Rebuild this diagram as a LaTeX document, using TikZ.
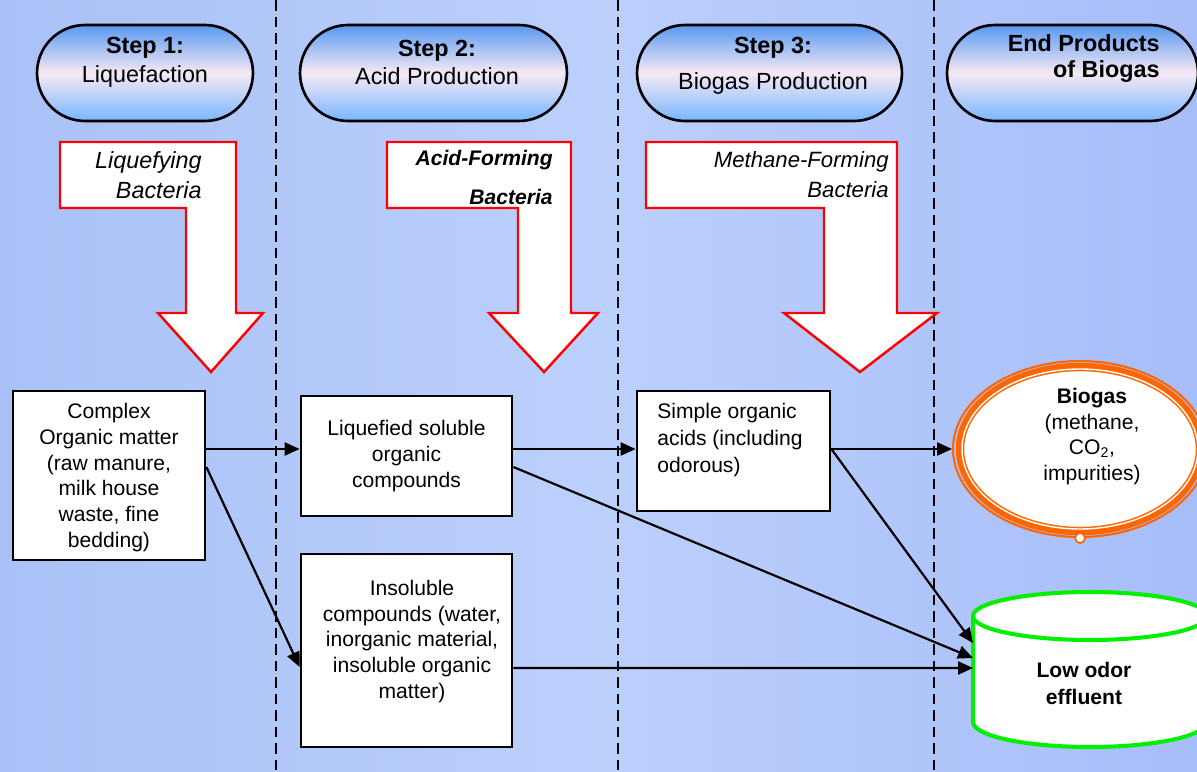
\documentclass[tikz,border=0pt]{standalone}
\usepackage{fontspec}
\setmainfont{Liberation Sans}
\usetikzlibrary{arrows.meta,shapes.geometric,shapes.misc}
\definecolor{bgL}{HTML}{A9C1F7}
\definecolor{bgM}{HTML}{BCD0FC}
\definecolor{bgR}{HTML}{A6BDF9}
\definecolor{pillT}{HTML}{5898F0}
\definecolor{pillM}{HTML}{F6E9F4}
\definecolor{pillB}{HTML}{78B6FF}
\definecolor{bioOr}{HTML}{FF6600}
\definecolor{effGr}{HTML}{00F000}
\begin{document}
\begin{tikzpicture}[x=0.02cm,y=-0.02cm,
  pill/.style={rounded rectangle, draw=black, line width=1.5pt, top color=pillT, bottom color=pillB, middle color=pillM, minimum height=1.92cm, inner sep=0},
  pilltext/.style={align=center, inner sep=0, font=\fontsize{13.3}{16.4}\selectfont},
  barrow/.style={draw=red, fill=white, line width=1.4pt, line join=miter},
  arrtext/.style={align=right, anchor=east, inner sep=0},
  box/.style={draw=black, fill=white, line width=1.6pt, inner sep=0},
  boxtext/.style={align=center, inner sep=0, font=\fontsize{12}{14.6}\selectfont},
  divider/.style={draw=black, line width=1.5pt, dash pattern=on 6pt off 3.4pt},
  conn/.style={draw=black, line width=1.25pt, -{Triangle[length=8.5pt,width=7.4pt]}}
]
\useasboundingbox (0,0) rectangle (1197,771);
\begin{scope}
\clip (0,0) rectangle (1197,771);
\shade[left color=bgL, right color=bgR, middle color=bgM] (0,0) rectangle (1197,771);

% dividers
\draw[divider] (276,0) -- (276,771);
\draw[divider] (618,0) -- (618,771);
\draw[divider] (934,0) -- (934,771);

% header pills
\node[pill, minimum width=4.32cm] (p1) at (145,73) {};
\node[pill, minimum width=5.34cm] (p2) at (433.5,73) {};
\node[pill, minimum width=5.30cm] (p3) at (769.5,73) {};
\node[pill, minimum width=5.02cm] (p4) at (1072.5,73) {};
\node[pilltext] (t1) at (145,62.5) {\textbf{Step 1:}\\Liquefaction};
\node[pilltext] (t2) at (437,62.5) {\textbf{Step 2:}\\Acid Production};
\node[pilltext, font=\fontsize{13.3}{20.4}\selectfont] (t3) at (773,66) {\textbf{Step 3:}\\Biogas Production};
\node[pilltext, align=right, anchor=east, font=\fontsize{13.3}{15.3}\selectfont\bfseries] (t4) at (1160,58.5) {End Products\\of Biogas};

% bacteria block arrows
\draw[barrow] (60,142) -- (236,142) -- (236,313) -- (263,313) -- (211,372) -- (158,313) -- (186,313) -- (186,208) -- (60,208) -- cycle;
\draw[barrow] (387,142) -- (571,142) -- (571,313) -- (598,313) -- (544,372) -- (489,313) -- (518,313) -- (518,208) -- (387,208) -- cycle;
\draw[barrow] (646,142) -- (897,142) -- (897,313) -- (937,313) -- (860,372) -- (784,313) -- (824,313) -- (824,208) -- (646,208) -- cycle;
\node[arrtext, font=\fontsize{13.3}{17}\selectfont\itshape] (a1) at (202,175) {Liquefying\\Bacteria};
\node[arrtext, font=\fontsize{12}{22}\selectfont\bfseries\itshape] (a2) at (553,177.5) {Acid-Forming\\Bacteria};
\node[arrtext, font=\fontsize{12.6}{17}\selectfont\itshape] (a3) at (889,175) {Methane-Forming\\Bacteria};

% process boxes
\node[box, minimum width=3.84cm, minimum height=3.38cm] (cx) at (109,475.5) {};
\node[boxtext] (cxt) at (109,477.5) {Complex\\Organic matter\\(raw manure,\\milk house\\waste, fine\\bedding)};
\node[box, minimum width=4.22cm, minimum height=2.4cm] (lq) at (406.5,456) {};
\node[boxtext, font=\fontsize{12}{14.7}\selectfont] (lqt) at (406.5,456) {Liquefied soluble\\organic\\compounds};
\node[box, minimum width=4.22cm, minimum height=3.86cm] (ins) at (406.5,650.5) {};
\node[boxtext] (inst) at (412,641.5) {Insoluble\\compounds (water,\\inorganic material,\\insoluble organic\\matter)};
\node[box, minimum width=3.86cm, minimum height=2.4cm] (sm) at (733.5,451) {};
\node[boxtext, align=left, anchor=west, font=\fontsize{12}{15.3}\selectfont] (smt) at (657,440) {Simple organic\\acids (including\\odorous)};

% biogas ellipse
\node[ellipse, draw=bioOr, line width=1.2pt, minimum width=5.08cm, minimum height=3.52cm, inner sep=0] (bio) at (1080,449) {};
\draw[bioOr, line width=4.8pt, fill=white] (bio.center) ellipse [x radius=2.4cm, y radius=1.64cm];
\draw[white, line width=0.8pt] (bio.center) ellipse [x radius=2.36cm, y radius=1.60cm];
\draw[bioOr, line width=1pt, fill=white] (bio.south) circle [radius=0.1cm];
\node[boxtext] (biot) at (1092,436.5) {\textbf{Biogas}\\(methane,\\CO\textsubscript{2},\\impurities)};

% effluent cylinder
\draw[effGr, line width=2.3pt, fill=white] (1090,722) ellipse [x radius=2.34cm, y radius=0.5cm];
\fill[white] (973,616) rectangle (1207,722);
\draw[effGr, line width=2.3pt] (973,616) -- (973,722);
\draw[effGr, line width=2.3pt, fill=white] (1090,616) ellipse [x radius=2.34cm, y radius=0.48cm];
\node[boxtext, font=\fontsize{12}{15.3}\selectfont\bfseries] (eff) at (1084,683.5) {Low odor\\effluent};
\coordinate (effA) at (973,643);
\coordinate (effB) at (973,658);
\coordinate (effC) at (973,668);

% connectors
\coordinate (c1) at ([yshift=0.53cm]cx.east);
\coordinate (c2) at ([yshift=0.17cm]cx.east);
\coordinate (c3) at ([yshift=0.14cm]lq.east);
\coordinate (c4) at ([yshift=-0.22cm]lq.east);
\coordinate (c5) at ([yshift=0.04cm]sm.east);
\coordinate (c6) at ([yshift=-0.35cm]ins.east);
\draw[conn] (c1) -- (c1 -| lq.west);
\draw[conn] (c2) -- ([yshift=-0.33cm]ins.west);
\draw[conn] (c3) -- (c3 -| sm.west);
\draw[conn] (c4) -- (effB);
\draw[conn] (c5) -- (c5 -| bio.west);
\draw[conn] (c5) -- (effA);
\draw[conn] (c6) -- (effC);
\end{scope}
\end{tikzpicture}
\end{document}
